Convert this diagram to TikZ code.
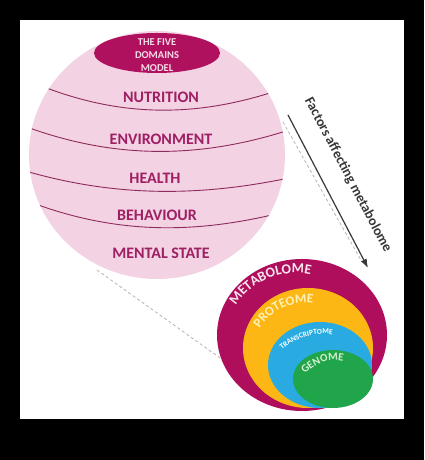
\documentclass[tikz,border=0pt]{standalone}
\usepackage{fontspec}
\setmainfont{Carlito}
\usetikzlibrary{shapes.geometric,arrows.meta,decorations.text}
\definecolor{spherefill}{HTML}{F3D2E3}
\definecolor{latline}{HTML}{8E2A5E}
\definecolor{labelcol}{HTML}{9E1F63}
\definecolor{capfill}{HTML}{B0115E}
\definecolor{captext}{HTML}{F6DCE9}
\definecolor{metab}{HTML}{AE0E5B}
\definecolor{metabtext}{HTML}{F8E6EF}
\definecolor{prot}{HTML}{FDB714}
\definecolor{prottext}{HTML}{FFF1B8}
\definecolor{trans}{HTML}{29ABE2}
\definecolor{gen}{HTML}{21A54A}
\definecolor{gentext}{HTML}{D5F0D0}
\definecolor{guidecol}{HTML}{B4B4B4}
\definecolor{arrowgray}{HTML}{383838}
\begin{document}
\begin{tikzpicture}[x=1pt,y=1pt,
  domainlabel/.style={font=\bfseries\fontsize{16}{16}\selectfont, text=labelcol, anchor=base, inner sep=0pt},
  lat/.style={draw=latline, line width=0.9pt},
  blob/.style={ellipse, inner sep=0pt, draw=none},
  guide/.style={draw=guidecol, line width=0.8pt, dash pattern=on 3pt off 2.5pt},
]
\useasboundingbox (0,0) rectangle (424,460);
\fill[black] (0,0) rectangle (424,460);
\fill[white] (20,41) rectangle (404,440);

% dashed guide lines
\coordinate (d1a) at (283,338); \coordinate (d1b) at (362,198);
\coordinate (d2a) at (97,190);  \coordinate (d2b) at (220,102);
\draw[guide] (d1a) -- (d1b);
\draw[guide] (d2a) -- (d2b);

% sphere
\node[blob, fill=spherefill, minimum width=256pt, minimum height=248pt] (sphere) at (157,305) {};
\begin{scope}
\clip (157,305) ellipse [x radius=128, y radius=124];
\draw[lat] (44,373) .. controls (122,343) and (195,343) .. (273,368);
\draw[lat] (24,334) .. controls (113,301) and (197,301) .. (286,329);
\draw[lat] (22,290) .. controls (113,263) and (198,263) .. (289,282);
\draw[lat] (30,258) .. controls (115,226) and (192,226) .. (276,246);
\end{scope}

% cap
\node[blob, fill=capfill, minimum width=126pt, minimum height=40pt] (cap) at (157,407) {};
\node[font=\bfseries\fontsize{10.5}{13}\selectfont, text=captext, align=center, inner sep=0pt] (captxt) at (157,405) {THE FIVE\\DOMAINS\\MODEL};

% domain labels
\node[domainlabel] (nutrition) at (161,357) {NUTRITION};
\node[domainlabel] (environment) at (161,315) {ENVIRONMENT};
\node[domainlabel] (health) at (155,276) {HEALTH};
\node[domainlabel] (behaviour) at (157,239) {BEHAVIOUR};
\node[domainlabel] (mental) at (161,201) {MENTAL STATE};

% arrow and its label
\coordinate (as) at (288,345); \coordinate (ae) at (368,192);
\draw[draw=arrowgray, line width=1.2pt, -{Latex[length=9pt,width=6.5pt]}] (as) -- (ae);
\node[font=\bfseries\fontsize{14}{14}\selectfont, text=arrowgray, rotate=-62.3] (factors) at (348,285) {Factors affecting metabolome};

% omics circles
\node[blob, fill=metab, minimum width=170pt, minimum height=152pt] (metabolome) at (302,125) {};
\node[blob, fill=prot, minimum width=130pt, minimum height=120pt] (proteome) at (308,112) {};
\node[blob, fill=trans, minimum width=104pt, minimum height=86pt] (transcriptome) at (320,95) {};
\node[blob, fill=gen, minimum width=80pt, minimum height=58pt] (genome) at (333,81) {};

\path[decorate, decoration={text along path, text align=center,
  text={|\color{metabtext}\bfseries\fontsize{14}{14}\selectfont|METABOLOME}}]
  (295,117) ++(170:70) arc[start angle=170, end angle=55, radius=70];
\path[decorate, decoration={text along path, text align=center,
  text={|\color{prottext}\bfseries\fontsize{13}{13}\selectfont|PROTEOME}}]
  (305,104) ++(170:53) arc[start angle=170, end angle=60, radius=53];
\path[decorate, decoration={text along path, text align=center,
  text={|\color{white}\bfseries\fontsize{7.5}{7.5}\selectfont|TRANSCRIPTOME}}]
  (325,60) ++(150:66) arc[start angle=150, end angle=64, radius=66];
\path[decorate, decoration={text along path, text align=center,
  text={|\color{gentext}\bfseries\fontsize{11}{11}\selectfont|GENOME}}]
  (335,60) ++(160:39.5) arc[start angle=160, end angle=57, radius=39.5];
\end{tikzpicture}
\end{document}
